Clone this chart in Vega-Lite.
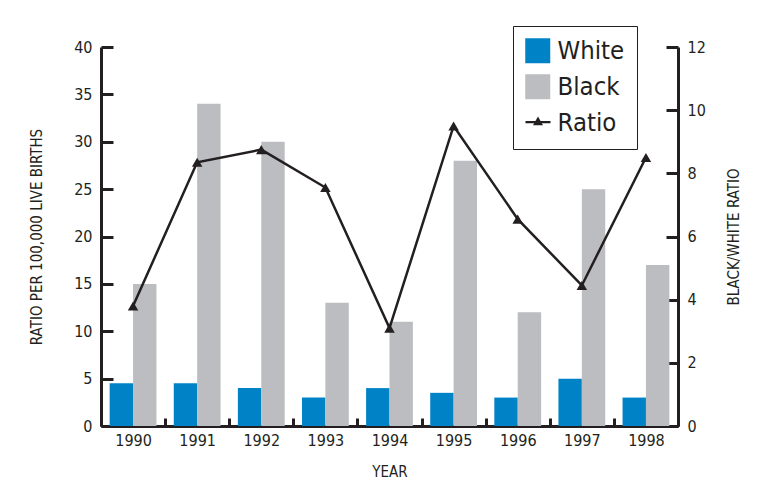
{
  "$schema": "https://vega.github.io/schema/vega-lite/v6.json",
  "width": 577,
  "height": 379,
  "autosize": "none",
  "padding": {"left": 101, "top": 47, "right": 84, "bottom": 57},
  "background": "white",
  "config": {
    "font": "'DejaVu Sans Condensed', Roboto, sans-serif",
    "view": {"stroke": null},
    "axis": {
      "labelFont": "'DejaVu Sans Condensed', Roboto, sans-serif",
      "titleFont": "'DejaVu Sans Condensed', Roboto, sans-serif",
      "labelColor": "#231F20",
      "titleColor": "#231F20",
      "domainColor": "#231F20",
      "tickColor": "#231F20",
      "domainWidth": 3,
      "tickWidth": 3,
      "labelFontSize": 16,
      "titleFontSize": 15,
      "titleFontWeight": "normal",
      "grid": false
    }
  },
  "datasets": {
    "bars": [
      {"year": "1990", "series": "White", "value": 4.5},
      {"year": "1990", "series": "Black", "value": 15},
      {"year": "1991", "series": "White", "value": 4.5},
      {"year": "1991", "series": "Black", "value": 34},
      {"year": "1992", "series": "White", "value": 4},
      {"year": "1992", "series": "Black", "value": 30},
      {"year": "1993", "series": "White", "value": 3},
      {"year": "1993", "series": "Black", "value": 13},
      {"year": "1994", "series": "White", "value": 4},
      {"year": "1994", "series": "Black", "value": 11},
      {"year": "1995", "series": "White", "value": 3.5},
      {"year": "1995", "series": "Black", "value": 28},
      {"year": "1996", "series": "White", "value": 3},
      {"year": "1996", "series": "Black", "value": 12},
      {"year": "1997", "series": "White", "value": 5},
      {"year": "1997", "series": "Black", "value": 25},
      {"year": "1998", "series": "White", "value": 3},
      {"year": "1998", "series": "Black", "value": 17}
    ],
    "ratio": [
      {"year": "1990", "ratio": 3.8},
      {"year": "1991", "ratio": 8.35},
      {"year": "1992", "ratio": 8.75},
      {"year": "1993", "ratio": 7.55},
      {"year": "1994", "ratio": 3.1},
      {"year": "1995", "ratio": 9.5},
      {"year": "1996", "ratio": 6.55},
      {"year": "1997", "ratio": 4.45},
      {"year": "1998", "ratio": 8.5}
    ]
  },
  "encoding": {
    "x": {
      "field": "year",
      "type": "nominal",
      "sort": null,
      "scale": {"paddingInner": 0, "paddingOuter": 0},
      "axis": {
        "title": "YEAR",
        "labelAngle": 0,
        "tickBand": "extent",
        "tickSize": -8,
        "labelPadding": 14,
        "titlePadding": 16
      }
    }
  },
  "layer": [
    {
      "data": {"name": "bars"},
      "mark": {"type": "bar", "stroke": null},
      "encoding": {
        "xOffset": {
          "field": "series",
          "type": "nominal",
          "sort": ["White", "Black"],
          "scale": {"domain": ["White", "Black"], "paddingInner": 0, "paddingOuter": 0.37}
        },
        "y": {
          "field": "value",
          "type": "quantitative",
          "scale": {"domain": [0, 40], "nice": false},
          "axis": {
            "title": "RATIO PER 100,000 LIVE BIRTHS",
            "values": [0, 5, 10, 15, 20, 25, 30, 35, 40],
            "tickSize": -12,
            "labelPadding": 21,
            "titlePadding": 29
          }
        },
        "color": {
          "field": "series",
          "type": "nominal",
          "scale": {
            "domain": ["White", "Black", "Ratio"],
            "range": ["#0082C6", "#BCBDC1", "transparent"]
          },
          "legend": {
            "title": null,
            "orient": "none",
            "legendX": 412,
            "legendY": -21,
            "padding": 12,
            "strokeColor": "#231F20",
            "fillColor": "white",
            "symbolSize": 625,
            "symbolStrokeWidth": 0,
            "labelFontSize": 25.5,
            "labelFont": "'DejaVu Sans Condensed', Roboto, sans-serif",
            "labelColor": "#231F20",
            "labelOffset": 7,
            "rowPadding": 9
          }
        }
      }
    },
    {
      "data": {"name": "ratio"},
      "mark": {
        "type": "line",
        "color": "#231F20",
        "strokeWidth": 2.5,
        "point": {"shape": "triangle-up", "size": 110, "filled": true, "color": "#231F20"}
      },
      "encoding": {
        "y": {
          "field": "ratio",
          "type": "quantitative",
          "scale": {"domain": [0, 12], "nice": false},
          "axis": {
            "orient": "right",
            "title": "BLACK/WHITE RATIO",
            "titleAngle": 270,
            "values": [0, 2, 4, 6, 8, 10, 12],
            "tickSize": -12,
            "labelPadding": 21,
            "titlePadding": 36
          }
        }
      }
    },
    {
      "data": {"name": "ratio"},
      "mark": {"type": "point", "filled": true, "color": "#231F20", "opacity": 0},
      "encoding": {
        "y": {"field": "ratio", "type": "quantitative", "scale": {"domain": [0, 12], "nice": false}, "axis": null},
        "shape": {
          "datum": "Ratio",
          "scale": {"domain": ["Ratio"], "range": ["M-1,-0.09H1V0.09H-1Z M-0.4,0.25L0,-0.45L0.4,0.25Z"]},
          "legend": {
            "title": null,
            "orient": "none",
            "legendX": 424.5,
            "legendY": 62.5,
            "padding": 0,
            "symbolSize": 625,
            "symbolOpacity": 1,
            "symbolFillColor": "#231F20",
            "symbolStrokeWidth": 0,
            "labelExpr": "''",
            "labelFontSize": 10
          }
        }
      }
    }
  ],
  "resolve": {"scale": {"y": "independent"}}
}
